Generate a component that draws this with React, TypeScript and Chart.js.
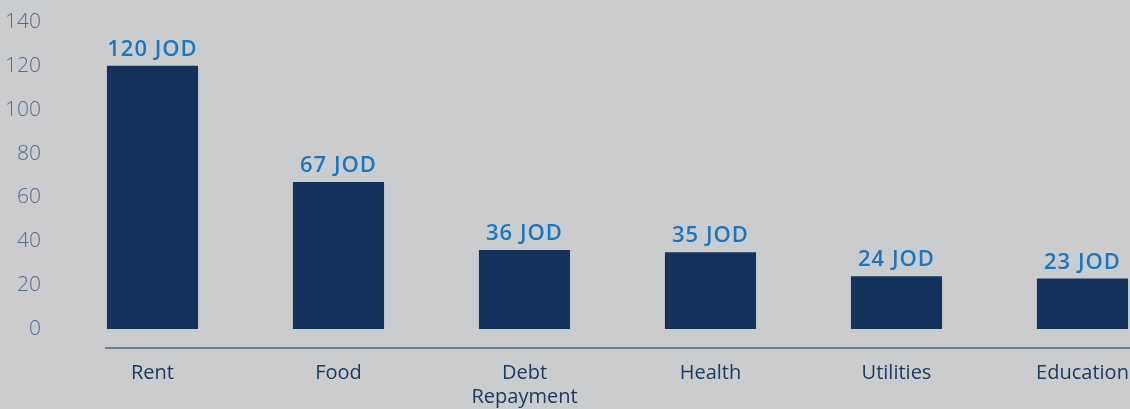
import { useEffect, useRef } from "react";
import { Chart, registerables } from "chart.js";

Chart.register(...registerables);

const categories: (string | string[])[] = ["Rent", "Food", ["Debt", "Repayment"], "Health", "Utilities", "Education"];
const values: number[] = [120, 67, 36, 35, 24, 23];
const yMin = 0;
const yMax = 140;
const yStep = 20;
const unit = "JOD";

const BG = "#cbcccd";
const BAR = "#14335c";
const VALUE_COLOR = "#1677c3";
const XLABEL_COLOR = "#1c3b63";
const YLABEL_COLOR = "#556d8f";
const AXIS_COLOR = "#6e8099";
const FONT = "'Open Sans', sans-serif";

export default function App() {
  const ref = useRef<HTMLCanvasElement | null>(null);

  useEffect(() => {
    const canvas = ref.current;
    if (!canvas) return;

    const valueLabels = {
      id: "valueLabels",
      afterDatasetsDraw(chart: any) {
        const ctx = chart.ctx;
        const meta = chart.getDatasetMeta(0);
        ctx.save();
        ctx.fillStyle = VALUE_COLOR;
        ctx.font = `600 22px ${FONT}`;
        try {
          (ctx as any).letterSpacing = "1px";
        } catch (e) {}
        ctx.textAlign = "center";
        ctx.textBaseline = "alphabetic";
        meta.data.forEach((bar: any, i: number) => {
          ctx.fillText(`${values[i]} ${unit}`, bar.x, bar.y - 10);
        });
        ctx.restore();
      },
    };

    const axisLine = {
      id: "axisLine",
      afterDraw(chart: any) {
        const ctx = chart.ctx;
        const meta = chart.getDatasetMeta(0);
        const first = meta.data[0] as any;
        const y = chart.chartArea.bottom + 19;
        ctx.save();
        ctx.strokeStyle = AXIS_COLOR;
        ctx.lineWidth = 2;
        ctx.beginPath();
        ctx.moveTo(first.x - first.width / 2 - 2, y);
        ctx.lineTo(chart.width, y);
        ctx.stroke();
        ctx.restore();
      },
    };

    const chart = new Chart(canvas, {
      type: "bar",
      data: {
        labels: categories,
        datasets: [
          {
            data: values,
            backgroundColor: BAR,
            borderWidth: 0,
            barPercentage: 0.49,
            categoryPercentage: 1,
          },
        ],
      },
      options: {
        animation: false,
        responsive: false,
        maintainAspectRatio: false,
        layout: { padding: { top: 22, left: 0, right: 14.5, bottom: 0 } },
        plugins: { legend: { display: false }, tooltip: { enabled: false } },
        scales: {
          x: {
            grid: { display: false, drawTicks: false },
            border: { display: false },
            ticks: {
              color: XLABEL_COLOR,
              font: { family: FONT, size: 20, weight: 500 as any, lineHeight: 1.2 },
              padding: 32,
              maxRotation: 0,
              autoSkip: false,
            },
            afterFit(scale: any) {
              scale.height = 80;
            },
          },
          y: {
            min: yMin,
            max: yMax,
            grid: { display: false, drawTicks: false },
            border: { display: false },
            ticks: {
              stepSize: yStep,
              color: YLABEL_COLOR,
              font: { family: FONT, size: 21, weight: 300 as any },
              padding: 18.5,
            },
            afterFit(scale: any) {
              scale.width = 59.5;
              scale.paddingTop = 0;
              scale.paddingBottom = 0;
            },
          },
        },
      },
      plugins: [valueLabels, axisLine],
    });

    return () => chart.destroy();
  }, []);

  return (
    <div
      style={{
        position: "fixed",
        left: 0,
        top: 0,
        width: 1130,
        height: 409,
        overflow: "hidden",
        background: BG,
      }}
    >
      <canvas ref={ref} width={1190} height={409} style={{ display: "block", width: 1190, height: 409 }} />
    </div>
  );
}
